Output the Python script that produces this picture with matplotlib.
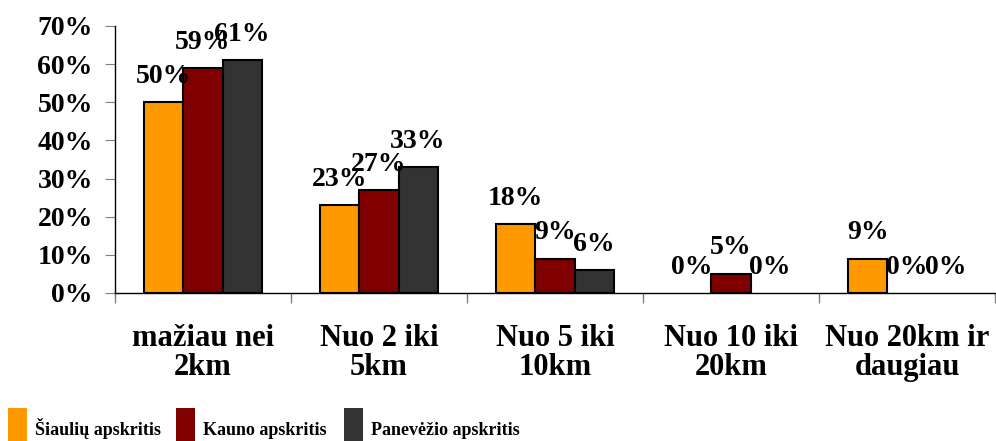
import matplotlib
matplotlib.use("Agg")
import matplotlib.pyplot as plt
from matplotlib.patches import Rectangle
import numpy as np

categories = ["mažiau nei\n2km", "Nuo 2 iki\n5km", "Nuo 5 iki\n10km", "Nuo 10 iki\n20km", "Nuo 20km ir\ndaugiau"]
series_names = ["Šiaulių apskritis", "Kauno apskritis", "Panevėžio apskritis"]
siauliai = [50, 23, 18, 0, 9]
kaunas = [59, 27, 9, 5, 0]
panevezys = [61, 33, 6, 0, 0]
colors = ["#FF9900", "#800000", "#333333"]
yticks = [0, 10, 20, 30, 40, 50, 60, 70]

plt.rcParams['font.family'] = ['Liberation Serif', 'DejaVu Serif']
plt.rcParams['font.weight'] = 'bold'

W, H = 996, 441
fig = plt.figure(figsize=(W / 100, H / 100), dpi=100)
ax = fig.add_axes([115 / W, 148 / H, 880 / W, (293 - 26) / H])

x = np.arange(len(categories))
w = 0.222
for i, (vals, c) in enumerate(zip([siauliai, kaunas, panevezys], colors)):
    pos = x + (i - 1) * w
    lws = [1.5 if v > 0 else 0 for v in vals]
    ax.bar(pos, vals, width=w, color=c, edgecolor='black', linewidth=lws, zorder=3)
    for p, v in zip(pos, vals):
        ax.annotate(f"{v}%", (p, v), xytext=(0, 14), textcoords='offset points',
                    ha='center', va='baseline', fontsize=20, fontweight='bold', zorder=4)

ax.set_xlim(-0.5, len(categories) - 0.5)
ax.set_ylim(0, 70)
ax.set_yticks(yticks)
ax.set_yticklabels([f"{t}%" for t in yticks], fontsize=20, fontweight='bold')
ax.set_xticks(x)
ax.set_xticklabels(categories, fontsize=22, fontweight='bold', linespacing=1.0)
ax.tick_params(axis='x', which='major', length=0, pad=22)
ax.set_xticks(np.arange(len(categories) + 1) - 0.5, minor=True)
ax.tick_params(axis='x', which='minor', length=7, color='#808080', width=1)
ax.tick_params(axis='y', length=7, color='#808080', pad=9)
for s in ['top', 'right']:
    ax.spines[s].set_visible(False)
ax.spines['left'].set_linewidth(1)
ax.spines['bottom'].set_linewidth(1)

# legend (manual, to match positions)
leg_x = [8, 176, 344]
for lx, name, c in zip(leg_x, series_names, colors):
    fig.patches.append(Rectangle((lx / W, 0), 19 / W, 33 / H, transform=fig.transFigure,
                                 facecolor=c, edgecolor='none'))
    fig.text((lx + 27) / W, 6 / H, name, fontsize=13, fontweight='bold',
             ha='left', va='baseline')

fig.savefig("out.png", dpi=100)
